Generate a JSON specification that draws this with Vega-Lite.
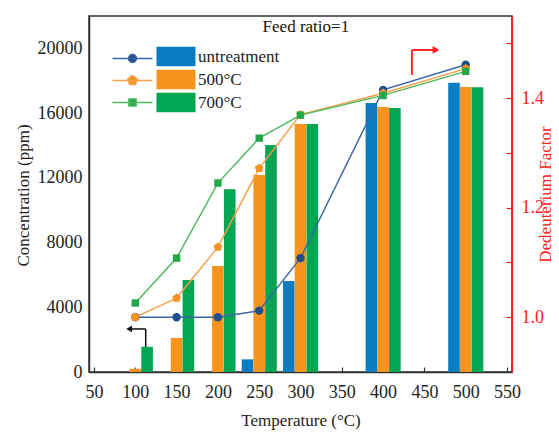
{
  "$schema": "https://vega.github.io/schema/vega-lite/v6.json",
  "width": 423,
  "height": 356,
  "autosize": {"type": "none"},
  "padding": {"left": 89, "top": 16, "right": 47, "bottom": 60},
  "background": "white",
  "config": {
    "view": {"stroke": "#333333", "strokeWidth": 1.5},
    "font": "Liberation Serif, Times New Roman, serif",
    "text": {"font": "Liberation Serif, Times New Roman, serif"},
    "axis": {"grid": false, "labelFont": "Liberation Serif, Times New Roman, serif", "titleFont": "Liberation Serif, Times New Roman, serif", "titleFontWeight": "normal"},
    "legend": {"labelFont": "Liberation Serif, Times New Roman, serif"}
  },
  "datasets": {
    "bars": [
      {"temp": 100, "series": "untreatment", "conc": 0},
      {"temp": 150, "series": "untreatment", "conc": 0},
      {"temp": 200, "series": "untreatment", "conc": 0},
      {"temp": 250, "series": "untreatment", "conc": 780},
      {"temp": 300, "series": "untreatment", "conc": 5620},
      {"temp": 400, "series": "untreatment", "conc": 16620},
      {"temp": 500, "series": "untreatment", "conc": 17870},
      {"temp": 100, "series": "500°C", "conc": 200},
      {"temp": 150, "series": "500°C", "conc": 2100},
      {"temp": 200, "series": "500°C", "conc": 6550},
      {"temp": 250, "series": "500°C", "conc": 12170},
      {"temp": 300, "series": "500°C", "conc": 15320},
      {"temp": 400, "series": "500°C", "conc": 16380},
      {"temp": 500, "series": "500°C", "conc": 17620},
      {"temp": 100, "series": "700°C", "conc": 1560},
      {"temp": 150, "series": "700°C", "conc": 5690},
      {"temp": 200, "series": "700°C", "conc": 11290},
      {"temp": 250, "series": "700°C", "conc": 14030},
      {"temp": 300, "series": "700°C", "conc": 15320},
      {"temp": 400, "series": "700°C", "conc": 16320},
      {"temp": 500, "series": "700°C", "conc": 17590}
    ],
    "factor": [
      {"temp": 100, "series": "untreatment", "factor": 1.0},
      {"temp": 150, "series": "untreatment", "factor": 1.0},
      {"temp": 200, "series": "untreatment", "factor": 1.0},
      {"temp": 250, "series": "untreatment", "factor": 1.012},
      {"temp": 300, "series": "untreatment", "factor": 1.108},
      {"temp": 400, "series": "untreatment", "factor": 1.415},
      {"temp": 500, "series": "untreatment", "factor": 1.461},
      {"temp": 100, "series": "500°C", "factor": 1.0},
      {"temp": 150, "series": "500°C", "factor": 1.035},
      {"temp": 200, "series": "500°C", "factor": 1.128},
      {"temp": 250, "series": "500°C", "factor": 1.272},
      {"temp": 300, "series": "500°C", "factor": 1.37},
      {"temp": 400, "series": "500°C", "factor": 1.409},
      {"temp": 500, "series": "500°C", "factor": 1.454},
      {"temp": 100, "series": "700°C", "factor": 1.026},
      {"temp": 150, "series": "700°C", "factor": 1.108},
      {"temp": 200, "series": "700°C", "factor": 1.245},
      {"temp": 250, "series": "700°C", "factor": 1.327},
      {"temp": 300, "series": "700°C", "factor": 1.369},
      {"temp": 400, "series": "700°C", "factor": 1.405},
      {"temp": 500, "series": "700°C", "factor": 1.449}
    ]
  },
  "encoding": {
    "x": {
      "field": "temp", "type": "quantitative",
      "scale": {"domain": [50, 550], "nice": false, "zero": false},
      "axis": {
        "values": [50, 100, 150, 200, 250, 300, 350, 400, 450, 500, 550],
        "domainColor": "#333333", "domainWidth": 1.5,
        "tickSize": -5, "tickColor": "#333333", "tickWidth": 1.2,
        "labelFontSize": 18, "labelColor": "#222222", "labelPadding": 16,
        "title": "Temperature (°C)", "titleFontSize": 17, "titleColor": "#222222",
        "titleX": 211.5, "titleY": 48, "titleAlign": "center", "titleBaseline": "middle"
      }
    }
  },
  "layer": [
    {
      "encoding": {
        "y": {
          "field": "conc", "type": "quantitative",
          "scale": {"domain": [0, 22000], "nice": false},
          "axis": {
            "orient": "left",
            "values": [0, 4000, 8000, 12000, 16000, 20000],
            "format": "d",
            "ticks": false, "tickSize": 0,
            "domainColor": "#333333", "domainWidth": 1.5,
            "labelFontSize": 18, "labelColor": "#222222", "labelPadding": 7,
            "title": "Concentration (ppm)", "titleFontSize": 17, "titleColor": "#222222",
            "titleX": -66, "titleY": 179, "titleAngle": -90, "titleAlign": "center", "titleBaseline": "middle"
          }
        }
      },
      "layer": [
        {
          "data": {"name": "bars"},
          "transform": [{"filter": "datum.series == 'untreatment'"}],
          "mark": {"type": "bar", "width": 11.6, "xOffset": -11.7},
          "encoding": {
            "color": {
              "field": "series", "type": "nominal",
              "scale": {"domain": ["untreatment", "500°C", "700°C"], "range": ["#0a7dc2", "#f7941d", "#00a651"]},
              "legend": {"orient": "none", "legendX": 78.5, "legendY": 32, "title": null, "symbolType": "M-3.9,-1.95H3.9V1.95H-3.9Z", "symbolSize": 100, "symbolStrokeWidth": 0, "labelFontSize": 17, "labelColor": "#222222", "labelOffset": 13.5, "rowPadding": 2}
            }
          }
        },
        {
          "data": {"name": "bars"},
          "transform": [{"filter": "datum.series == '500°C'"}],
          "mark": {"type": "bar", "width": 11.6, "xOffset": 0},
          "encoding": {
            "color": {
              "field": "series", "type": "nominal",
              "scale": {"domain": ["untreatment", "500°C", "700°C"], "range": ["#0a7dc2", "#f7941d", "#00a651"]},
              "legend": {"orient": "none", "legendX": 78.5, "legendY": 32, "title": null, "symbolType": "M-3.9,-1.95H3.9V1.95H-3.9Z", "symbolSize": 100, "symbolStrokeWidth": 0, "labelFontSize": 17, "labelColor": "#222222", "labelOffset": 13.5, "rowPadding": 2}
            }
          }
        },
        {
          "data": {"name": "bars"},
          "transform": [{"filter": "datum.series == '700°C'"}],
          "mark": {"type": "bar", "width": 11.6, "xOffset": 11.8},
          "encoding": {
            "color": {
              "field": "series", "type": "nominal",
              "scale": {"domain": ["untreatment", "500°C", "700°C"], "range": ["#0a7dc2", "#f7941d", "#00a651"]},
              "legend": {"orient": "none", "legendX": 78.5, "legendY": 32, "title": null, "symbolType": "M-3.9,-1.95H3.9V1.95H-3.9Z", "symbolSize": 100, "symbolStrokeWidth": 0, "labelFontSize": 17, "labelColor": "#222222", "labelOffset": 13.5, "rowPadding": 2}
            }
          }
        },
        {
          "data": {"values": [{"temp": 306.5, "conc": 21300, "label": "Feed ratio=1"}]},
          "mark": {"type": "text", "fontSize": 17, "color": "#111111", "align": "center", "baseline": "middle"},
          "encoding": {"text": {"field": "label"}}
        },
        {
          "data": {"values": [
            {"temp": 112.6, "temp2": 112.6, "conc": 1545, "conc2": 2660},
            {"temp": 94, "temp2": 112.6, "conc": 2660, "conc2": 2660}
          ]},
          "mark": {"type": "rule", "color": "#111111", "strokeWidth": 1.5},
          "encoding": {"x2": {"field": "temp2"}, "y2": {"field": "conc2"}}
        },
        {
          "data": {"values": [{"temp": 92.5, "conc": 2660}]},
          "mark": {"type": "point", "shape": "triangle-left", "filled": true, "size": 45, "color": "#111111", "opacity": 1},
          "encoding": {}
        },
        {
          "data": {"values": [
            {"temp": 434.8, "temp2": 434.8, "conc": 18355, "conc2": 19900},
            {"temp": 434.8, "temp2": 461, "conc": 19900, "conc2": 19900}
          ]},
          "mark": {"type": "rule", "color": "#ff1a1a", "strokeWidth": 1.8},
          "encoding": {"x2": {"field": "temp2"}, "y2": {"field": "conc2"}}
        },
        {
          "data": {"values": [{"temp": 464, "conc": 19900}]},
          "mark": {"type": "point", "shape": "triangle-right", "filled": true, "size": 60, "color": "#ff1a1a", "opacity": 1},
          "encoding": {}
        }
      ]
    },
    {
      "data": {"name": "factor"},
      "encoding": {
        "y": {
          "field": "factor", "type": "quantitative",
          "scale": {"domain": [0.9, 1.55], "nice": false, "zero": false},
          "axis": {
            "orient": "right",
            "values": [1.0, 1.1, 1.2, 1.3, 1.4, 1.5],
            "labelExpr": "round(datum.value*10)%2==0 ? format(datum.value,'.1f') : ''",
            "tickSize": -6, "tickColor": "#ff2020", "tickWidth": 1.2,
            "domainColor": "#ff2020", "domainWidth": 1.3,
            "labelFontSize": 18, "labelColor": "#ff2020", "labelPadding": 15,
            "title": "Dedeuterium Factor", "titleFontSize": 17, "titleColor": "#ff2020",
            "titleX": 33, "titleY": 178, "titleAngle": 270, "titleAlign": "center", "titleBaseline": "middle"
          }
        }
      },
      "layer": [
        {
          "mark": {"type": "line", "strokeWidth": 1.4},
          "encoding": {
            "stroke": {
              "field": "series", "type": "nominal",
              "scale": {"domain": ["700°C", "500°C", "untreatment"], "range": ["#4cb85c", "#f5a04a", "#3a64a8"]},
              "legend": {"orient": "none", "legendX": 35, "legendY": 34, "title": null, "values": ["untreatment", "500°C", "700°C"], "symbolSize": 100, "symbolStrokeWidth": 1.5, "symbolOpacity": 1, "labelExpr": "''", "labelFontSize": 17, "labelOffset": 0, "rowPadding": 4}
            }
          }
        },
        {
          "transform": [{"filter": "datum.series == 'untreatment'"}],
          "mark": {"type": "point", "shape": "circle", "filled": true, "size": 70, "color": "#1f4e8c", "opacity": 1},
          "encoding": {}
        },
        {
          "transform": [{"filter": "datum.series == '500°C'"}],
          "mark": {"type": "point", "shape": "M0,-1L0.951,-0.309L0.588,0.809L-0.588,0.809L-0.951,-0.309Z", "filled": true, "size": 85, "color": "#f7931e", "opacity": 1},
          "encoding": {}
        },
        {
          "transform": [{"filter": "datum.series == '700°C'"}],
          "mark": {"type": "point", "shape": "square", "filled": true, "size": 55, "color": "#22a84a", "opacity": 1},
          "encoding": {}
        },
        {
          "mark": {"type": "point", "filled": true, "opacity": 0},
          "encoding": {
            "fill": {
              "field": "series", "type": "nominal",
              "scale": {"domain": ["700°C", "500°C", "untreatment"], "range": ["#22a84a", "#f7931e", "#1f4e8c"]},
              "legend": {"orient": "none", "legendX": 35, "legendY": 34, "title": null, "values": ["untreatment", "500°C", "700°C"], "symbolSize": 100, "symbolStrokeWidth": 1.5, "symbolOpacity": 1, "labelExpr": "''", "labelFontSize": 17, "labelOffset": 0, "rowPadding": 4}
            },
            "stroke": {
              "field": "series", "type": "nominal",
              "scale": {"domain": ["700°C", "500°C", "untreatment"], "range": ["#4cb85c", "#f5a04a", "#3a64a8"]},
              "legend": {"orient": "none", "legendX": 35, "legendY": 34, "title": null, "values": ["untreatment", "500°C", "700°C"], "symbolSize": 100, "symbolStrokeWidth": 1.5, "symbolOpacity": 1, "labelExpr": "''", "labelFontSize": 17, "labelOffset": 0, "rowPadding": 4}
            },
            "shape": {
              "field": "series", "type": "nominal",
              "scale": {"domain": ["700°C", "500°C", "untreatment"], "range": ["M-4,0H4M-0.72,-0.72H0.72V0.72H-0.72Z", "M-4,0H4M0,-1L0.951,-0.309L0.588,0.809L-0.588,0.809L-0.951,-0.309Z", "M-4,0H4M-0.8,0A0.8,0.8 0 1,0 0.8,0A0.8,0.8 0 1,0 -0.8,0Z"]},
              "legend": {"orient": "none", "legendX": 35, "legendY": 34, "title": null, "values": ["untreatment", "500°C", "700°C"], "symbolSize": 100, "symbolStrokeWidth": 1.5, "symbolOpacity": 1, "labelExpr": "''", "labelFontSize": 17, "labelOffset": 0, "rowPadding": 4}
            }
          }
        }
      ]
    }
  ],
  "resolve": {"scale": {"y": "independent"}, "axis": {"y": "independent"}}
}
